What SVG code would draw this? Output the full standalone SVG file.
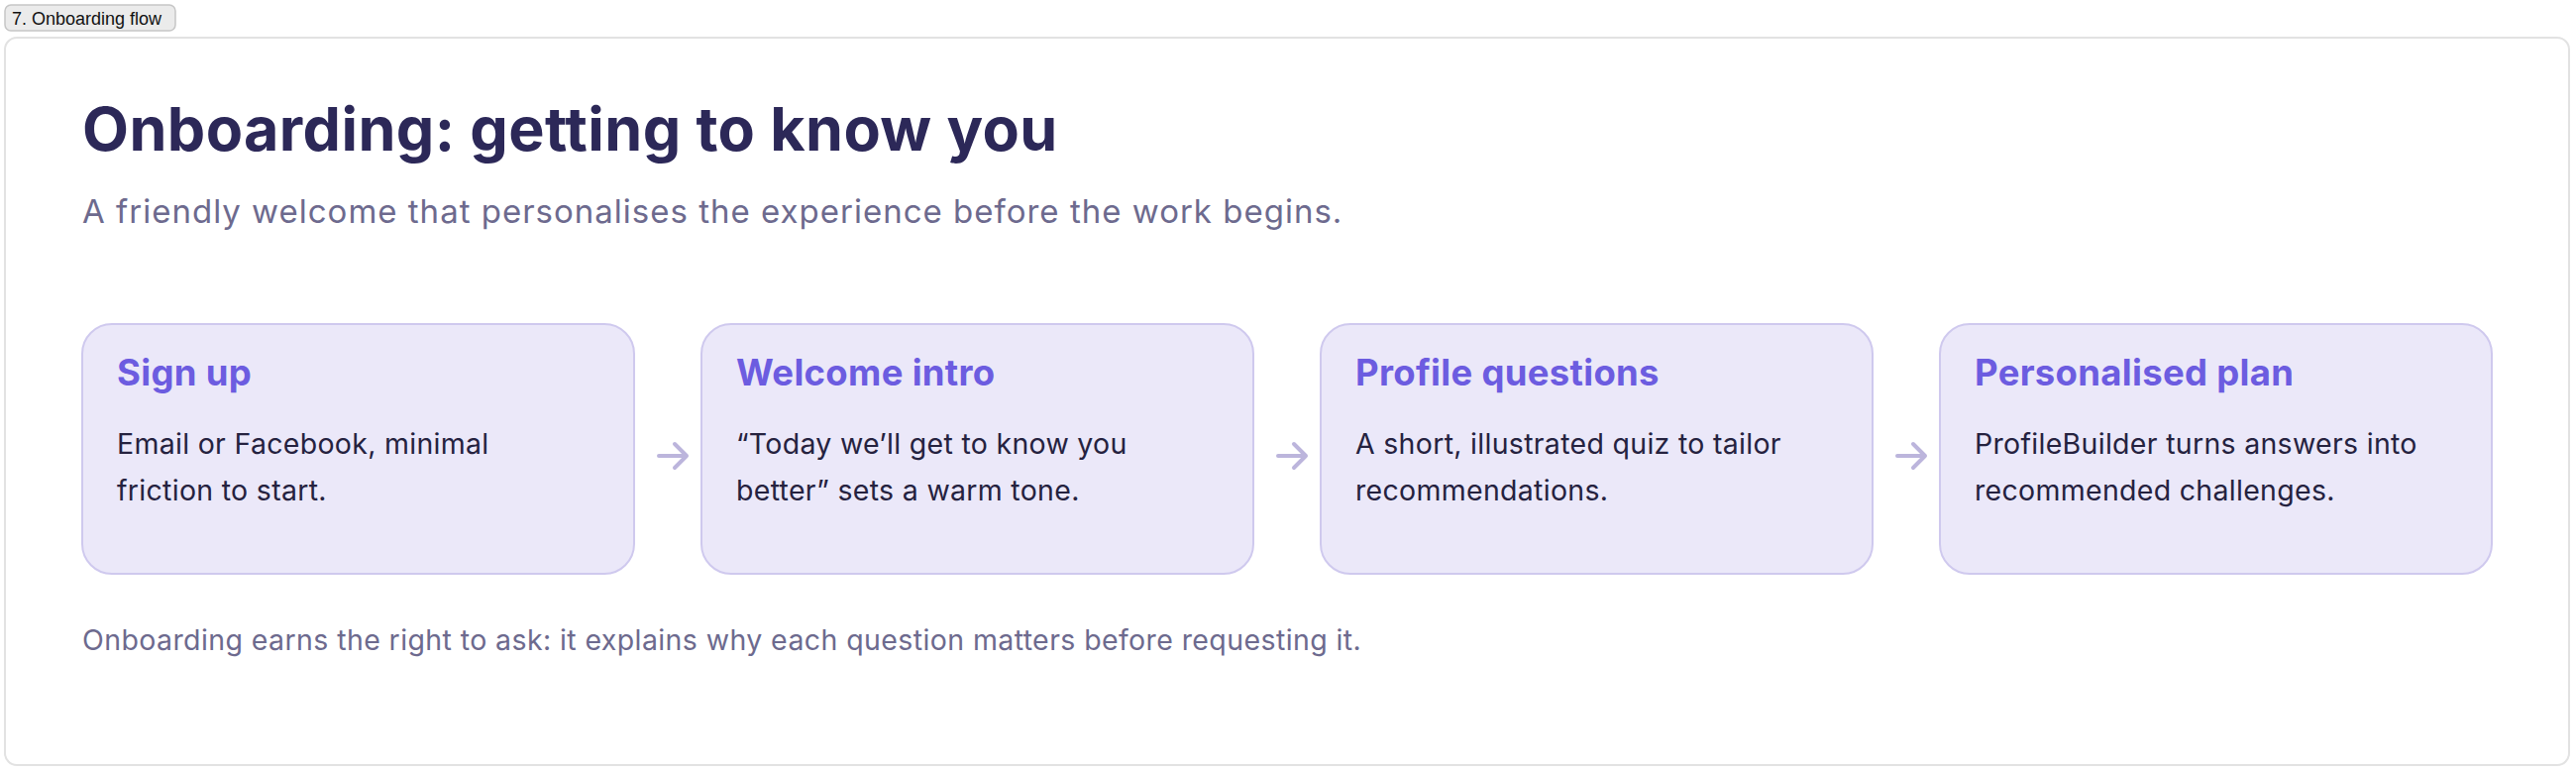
<svg xmlns="http://www.w3.org/2000/svg" width="2600" height="777" viewBox="0 0 2600 777">
<style>
.tab{fill:#ebebeb;stroke:#c6c6c6;stroke-width:1.5}
.tabt{font-family:"Liberation Sans",Arial,sans-serif;font-size:18px;fill:#111}
.card{fill:#ffffff;stroke:#e2e2e2;stroke-width:2}
.h1{font-family:Inter,"Noto Sans",sans-serif;font-weight:700;font-size:61px;fill:#2c2858;letter-spacing:0.4px}
.sub{font-family:Inter,"Noto Sans",sans-serif;font-size:33px;fill:#6d6a8e;letter-spacing:1px}
.box{fill:#ebe8f9;stroke:#cfc9ee;stroke-width:2}
.bt{font-family:Inter,"Noto Sans",sans-serif;font-weight:700;font-size:36.5px;fill:#6c5ce0;letter-spacing:0.3px}
.bd{font-family:Inter,"Noto Sans",sans-serif;font-size:28.5px;fill:#25223f;letter-spacing:0.3px}
.foot{font-family:Inter,"Noto Sans",sans-serif;font-size:28.5px;fill:#6d6a8e;letter-spacing:0.4px}
.arr{fill:none;stroke:#bcb5dc;stroke-width:4;stroke-linecap:round;stroke-linejoin:round}
</style>
<rect x="0" y="0" width="2600" height="777" fill="#ffffff"/>
<g id="tab">
<rect class="tab" x="5" y="5" width="172" height="26" rx="6"/>
<text class="tabt" x="12" y="25">7. Onboarding flow</text>
</g>
<rect class="card" x="5" y="38" width="2588" height="734" rx="12"/>
<g id="header">
<text class="h1" x="83" y="152">Onboarding: getting to know you</text>
<text class="sub" x="83" y="225">A friendly welcome that personalises the experience before the work begins.</text>
</g>
<g id="node-signup">
<rect class="box" x="83" y="327" width="557" height="252" rx="30"/>
<text class="bt" x="118" y="389">Sign up</text>
<text class="bd" x="118" y="458">Email or Facebook, minimal</text>
<text class="bd" x="118" y="505">friction to start.</text>
</g>
<g id="node-welcome">
<rect class="box" x="708" y="327" width="557" height="252" rx="30"/>
<text class="bt" x="743" y="389">Welcome intro</text>
<text class="bd" x="743" y="458">“Today we’ll get to know you</text>
<text class="bd" x="743" y="505">better” sets a warm tone.</text>
</g>
<g id="node-profile">
<rect class="box" x="1333" y="327" width="557" height="252" rx="30"/>
<text class="bt" x="1368" y="389">Profile questions</text>
<text class="bd" x="1368" y="458">A short, illustrated quiz to tailor</text>
<text class="bd" x="1368" y="505">recommendations.</text>
</g>
<g id="node-plan">
<rect class="box" x="1958" y="327" width="557" height="252" rx="30"/>
<text class="bt" x="1993" y="389">Personalised plan</text>
<text class="bd" x="1993" y="458">ProfileBuilder turns answers into</text>
<text class="bd" x="1993" y="505">recommended challenges.</text>
</g>
<g id="connectors">
<path class="arr" d="M665,460 H693 M681,448 L693,460 L681,472"/>
<path class="arr" d="M1290,460 H1318 M1306,448 L1318,460 L1306,472"/>
<path class="arr" d="M1915,460 H1943 M1931,448 L1943,460 L1931,472"/>
</g>
<text class="foot" x="83" y="656">Onboarding earns the right to ask: it explains why each question matters before requesting it.</text>
</svg>
